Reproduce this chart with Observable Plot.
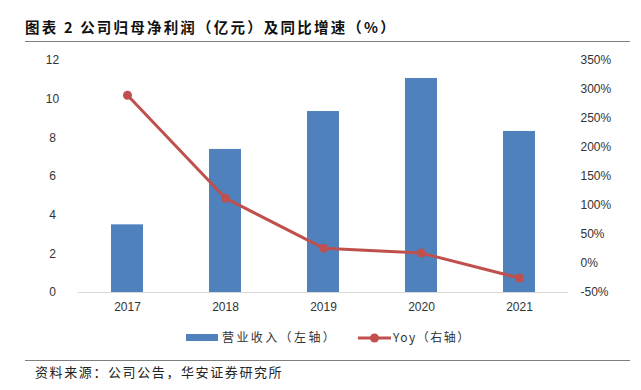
<!DOCTYPE html>
<html><head><meta charset="utf-8">
<script src="https://cdn.jsdelivr.net/npm/d3@7"></script>
<script src="https://cdn.jsdelivr.net/npm/@observablehq/plot@0.6"></script>
<style>
body{margin:0;background:#fff;}
#wrap{position:relative;width:641px;height:390px;overflow:hidden;font-family:"Liberation Sans",Arial,"Noto Sans CJK SC",sans-serif;color:#333;}
#title{position:absolute;left:25px;top:17px;font-family:"Noto Sans CJK SC",sans-serif;font-weight:bold;font-size:14.5px;letter-spacing:2.2px;color:#111;line-height:20px;white-space:nowrap;}
.rule{position:absolute;left:25px;width:605px;height:0;border-top:1.5px solid #7f7f7f;}
#chart{position:absolute;left:0;top:45px;}
.lg{position:absolute;font-family:"Noto Sans CJK SC",sans-serif;font-size:12px;letter-spacing:1.5px;line-height:16px;top:329px;color:#333;white-space:nowrap;}
#source{position:absolute;left:35px;top:363px;font-family:"Noto Sans CJK SC",sans-serif;font-size:13px;letter-spacing:1.6px;line-height:18px;color:#222;white-space:nowrap;}
</style></head><body>
<div id="wrap">
<div id="title">图表 2 公司归母净利润（亿元）及同比增速（%）</div>
<div class="rule" style="top:41px"></div>
<div id="chart"></div>
<div style="position:absolute;left:186px;top:334px;width:32px;height:7px;background:#4F81BD"></div>
<div class="lg" style="left:222px;letter-spacing:2.4px">营业收入（左轴）</div>
<svg style="position:absolute;left:356px;top:331px" width="38" height="14"><line x1="2" y1="7" x2="35" y2="7" stroke="#C0504D" stroke-width="3"/><circle cx="18.5" cy="7" r="4.5" fill="#C0504D"/></svg>
<div class="lg" style="left:393px">Yoy（右轴）</div>
<div class="rule" style="top:360px"></div>
<div id="source">资料来源：公司公告，华安证券研究所</div>
</div>
<script>
const years = ["2017", "2018", "2019", "2020", "2021"];
const profit = [3.5, 7.4, 9.36, 11.07, 8.33];
const yoy = [290, 112.6, 26.5, 17.9, -25];
const leftTicks = [0, 2, 4, 6, 8, 10, 12];
const rightTicks = [-50, 0, 50, 100, 150, 200, 250, 300, 350];

// map right-axis percentage onto the left-axis domain [0, 12]
const toLeft = p => (p + 50) * 12 / 400;
const fromLeft = v => Math.round(v * 400 / 12 - 50);

const data = years.map((y, i) => ({year: y, profit: profit[i], yoy: yoy[i], yoyL: toLeft(yoy[i])}));

const chart = Plot.plot({
  width: 641,
  height: 275,
  marginLeft: 78,
  marginRight: 73,
  marginTop: 15,
  marginBottom: 28,
  style: {fontFamily: '"Liberation Sans", Arial, sans-serif', fontSize: "12px", color: "#333", background: "transparent"},
  x: {domain: years, paddingInner: 0.673, paddingOuter: 0.3365, label: null},
  y: {domain: [0, 12], label: null},
  marks: [
    Plot.barY(data, {x: "year", y: "profit", fill: "#4F81BD"}),
    Plot.ruleY([0], {stroke: "#d9d9d9", strokeWidth: 1}),
    Plot.line(data, {x: "year", y: "yoyL", stroke: "#C0504D", strokeWidth: 3}),
    Plot.dot(data, {x: "year", y: "yoyL", r: 4.5, fill: "#C0504D", stroke: "none"}),
    Plot.axisX({tickSize: 0, tickPadding: 10, fontSize: 12, label: null}),
    Plot.axisY(leftTicks, {anchor: "left", tickSize: 0, tickPadding: 26, textAnchor: "middle", fontSize: 12, label: null}),
    Plot.axisY(rightTicks.map(toLeft), {anchor: "right", tickSize: 0, tickPadding: 12, fontSize: 12, label: null,
      tickFormat: d => fromLeft(d) + "%"})
  ]
});
document.getElementById("chart").appendChild(chart);
</script>
</body></html>
